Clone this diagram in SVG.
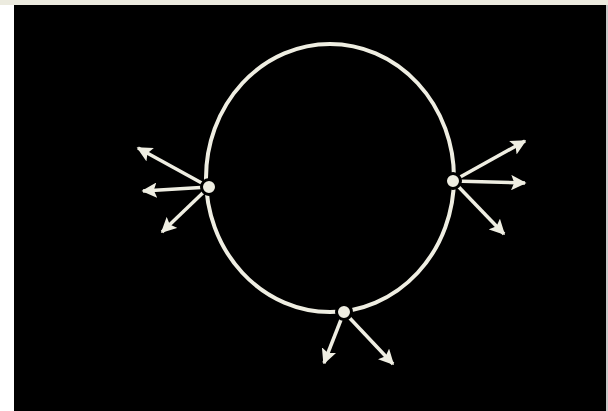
<svg xmlns="http://www.w3.org/2000/svg" width="608" height="411" viewBox="0 0 608 411">
<style>
.ring{fill:none;stroke:#efeee2;stroke-width:4}
.node{fill:#efeee2;stroke:#000;stroke-width:3}
.arr{stroke:#efeee2;stroke-width:3.5;fill:none;marker-end:url(#ah)}
</style>
<defs>
<marker id="ah" viewBox="0 0 10 10" refX="9" refY="5" markerWidth="4.4" markerHeight="4.4" orient="auto" markerUnits="strokeWidth">
<path d="M0,0 L10,5 L0,10 L2,5 Z" fill="#efeee2"/>
</marker>
</defs>
<rect x="0" y="0" width="608" height="411" fill="#ffffff"/>
<rect x="0" y="0" width="608" height="5" fill="#ecebdf"/>
<rect x="14" y="5" width="592" height="406" fill="#000000"/>
<rect x="606" y="5" width="2" height="406" fill="#c8c8c8"/>
<g id="ring">
<ellipse class="ring" cx="330" cy="178" rx="124" ry="134"/>
</g>
<g id="connectors">
<line class="arr" x1="209" y1="187" x2="138" y2="148"/>
<line class="arr" x1="209" y1="187" x2="143" y2="191"/>
<line class="arr" x1="209" y1="187" x2="162" y2="232"/>
<line class="arr" x1="453" y1="181" x2="525" y2="141"/>
<line class="arr" x1="453" y1="181" x2="525" y2="183"/>
<line class="arr" x1="453" y1="181" x2="504" y2="234"/>
<line class="arr" x1="344" y1="312" x2="324" y2="363"/>
<line class="arr" x1="344" y1="312" x2="393" y2="364"/>
</g>
<g id="node-left"><circle class="node" cx="209" cy="187" r="7.5"/></g>
<g id="node-right"><circle class="node" cx="453" cy="181" r="7.5"/></g>
<g id="node-bottom"><circle class="node" cx="344" cy="312" r="7.5"/></g>
</svg>
